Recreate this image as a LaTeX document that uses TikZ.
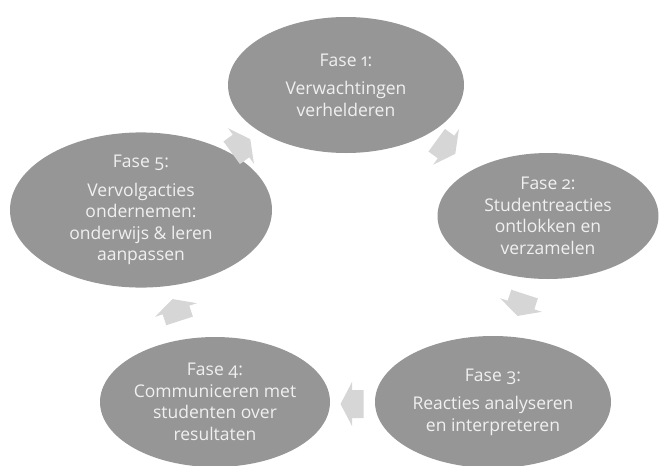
\documentclass[tikz,border=0pt]{standalone}
\usepackage{fontspec}
\setmainfont{Open Sans}[Numbers=OldStyle]
\usetikzlibrary{shapes.geometric}
\definecolor{phasegray}{HTML}{969696}
\definecolor{phasetext}{HTML}{F0F0F0}
\definecolor{arrowgray}{HTML}{D6D6D6}
\tikzset{
  phase/.style={ellipse, fill=phasegray, draw=none, inner sep=0pt, align=center,
    text=phasetext, font=\fontsize{17.5}{21.5}\selectfont},
  arrowfill/.style={fill=arrowgray, draw=none},
}
% block arrow: name, position, direction angle
\newcommand{\cyclearrow}[3]{%
  \begin{scope}[shift={#2}, rotate=#3]
    \fill[arrowfill] (-11.5,-14) -- (0,-14) -- (0,-22) -- (11.5,0)
      -- (0,22) -- (0,14) -- (-11.5,14) -- cycle;
    \coordinate (#1) at (0,0);
  \end{scope}}
\begin{document}
\begin{tikzpicture}[x=1pt,y=-1pt]
\useasboundingbox (0,0) rectangle (659,466);
\node[phase, minimum width=236pt, minimum height=136pt] (f1) at (346,85)
  {Fase 1:\\[7pt]Verwachtingen\\verhelderen};
\node[phase, minimum width=221pt, minimum height=126pt] (f2) at (548,216)
  {Fase 2:\\Studentreacties\\ontlokken en\\verzamelen};
\node[phase, minimum width=236pt, minimum height=132pt] (f3) at (493,402)
  {Fase 3:\\[7pt]Reacties analyseren\\en interpreteren};
\node[phase, minimum width=230pt, minimum height=130pt] (f4) at (215,402)
  {Fase 4:\\Communiceren met\\studenten over\\resultaten};
\node[phase, minimum width=262pt, minimum height=134pt] (f5) at (141,210)
  {Fase 5:\\[7pt]Vervolgacties\\ondernemen:\\onderwijs \& leren\\aanpassen};
\cyclearrow{a12}{(446,147)}{-36}
\cyclearrow{a23}{(521,305)}{-108}
\cyclearrow{a34}{(352,404)}{180}
\cyclearrow{a45}{(176,310)}{108}
\cyclearrow{a51}{(241,146)}{36}
\end{tikzpicture}
\end{document}
